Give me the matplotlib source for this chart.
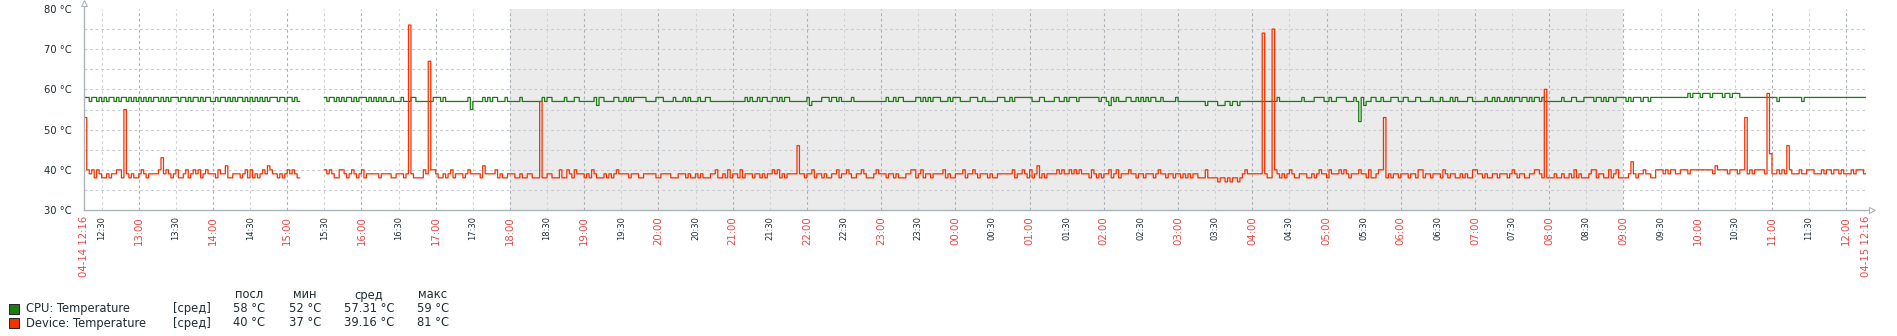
import numpy as np
import matplotlib
matplotlib.use("Agg")
import matplotlib.pyplot as plt

W, H = 1897, 336

# ---------------- data ----------------
# time in minutes since 04-14 12:16, one sample per 2 minutes (720 samples)
# CPU: each char = value - 50 ; '_' = no data
cpu_chunks = [
    "8878878",          # 12:16
    "787887878878787",  # 12:30
    "878787887878788",  # 13:00
    "878878788787887",  # 13:30
    "787887878788787",  # 14:00
    "878787878887887",  # 14:30
    "88787__________",  # 15:00
    "878878787887878",  # 15:30
    "887878787877877",  # 16:00
    "787778877777778",  # 16:30
    "887877777777785",  # 17:00
    "777787878877787",  # 17:30
    "777787777777787",  # 18:00
    "887777787778877",  # 18:30
    "777786887777887",  # 19:00
    "787878888877778",  # 19:30
    "887777877787877",  # 20:00
    "787788777777777",  # 20:30
    "777778787787887",  # 21:00
    "788787887777777",  # 21:30
    "867777888788787",  # 22:00
    "777877777777777",  # 22:30
    "778778788777778",  # 23:00
    "878787888777878",  # 23:30
    "887777888778777",  # 00:00
    "778887787888888",  # 00:30
    "877788777788778",  # 01:00
    "788878888888878",  # 01:30
    "876878777887787",  # 02:00
    "878788778777778",  # 02:30
    "777777777776777",  # 03:00
    "766677677677777",  # 03:30
    "777777777787777",  # 04:00
    "777778777788887",  # 04:30
    "787788887778728",  # 05:00
    "677887787778887",  # 05:30
    "788777887777877",  # 06:00
    "787778787777887",  # 06:30
    "777787787877878",  # 07:00
    "788788787887877",  # 07:30
    "777778777887778",  # 08:00
    "888788787887888",  # 08:30
    "878788878878888",  # 09:00
    "888888888889899",  # 09:30
    "989998999989989",  # 10:00
    "998888888888888",  # 10:30
    "887888888888788",  # 11:00
    "888888888888888",  # 11:30
    "88888888",         # 12:00
]
# Device: digit = value - 30, 'A' = 40, 'B' = 41, 'C' = 42 ; '_' = no data
dev_chunks = [
    "9A9A8A9",          # 12:16
    "889899AA8998988",  # 12:30
    "9A989999A99A989",  # 13:00
    "A889A89A9A89A99",  # 13:30
    "98A99B8899989A8",  # 14:00
    "A8989A9BA998989",  # 14:30
    "A9A98__________",  # 15:00
    "A9A988AA989A989",  # 15:30
    "A89999989999889",  # 16:00
    "9989998888A99AA",  # 16:30
    "988989A899989A9",  # 17:00
    "9998B9999A89889",  # 17:30
    "998898899888988",  # 18:00
    "99888A88A98A999",  # 18:30
    "898A988898989A9",  # 19:00
    "999899988999998",  # 19:30
    "899998889998988",  # 20:00
    "98988899A8898A8",  # 20:30
    "998A89998998989",  # 21:00
    "9A9A89899999998",  # 21:30
    "99A899898899A89",  # 22:00
    "9A98899A98889A9",  # 22:30
    "998998988899AA8",  # 23:00
    "9A89989999A8988",  # 23:30
    "999A899A9899989",  # 00:00
    "88999999A899A98",  # 00:30
    "A89B8989999A9A9",  # 01:00
    "9A9A9A9998A9898",  # 01:30
    "99A89A8999A9989",  # 02:00
    "9899989A9989989",  # 02:30
    "98989899888A888",  # 03:00
    "878878788789A99",  # 03:30
    "999999889A98989",  # 04:00
    "A98899988989A99",  # 04:30
    "8A999A9A98999A9",  # 05:00
    "98A889AA9898998",  # 05:30
    "9998998AA899899",  # 06:00
    "98A98998898988A",  # 06:30
    "A99898899899989",  # 07:00
    "A98998899AA9898",  # 07:30
    "8898898898A8988",  # 08:00
    "89AA89988A89A88",  # 08:30
    "889C9899A9988AA",  # 09:00
    "A9A9AA99AAA9AAA",  # 09:30
    "AAAAAA9BAAAA9AA",  # 10:00
    "A9AAA9A9AAAA9AA",  # 10:30
    "99A9A99A999A99A",  # 11:00
    "AA999A9AA9AA9A9",  # 11:30
    "99A9AAA9",         # 12:00
]
# Device spikes: (minute since 12:16, value)
dev_spike_t = [0, 32, 62, 262, 279, 369, 576, 953, 961, 1051, 1181, 1342, 1360, 1362, 1377]
dev_spike_v = [53, 55, 43, 76, 67, 57, 46, 74, 75, 53, 60, 53, 59, 44, 46]

tick_labels = ["12:30", "13:00", "13:30", "14:00", "14:30", "15:00", "15:30", "16:00",
               "16:30", "17:00", "17:30", "18:00", "18:30", "19:00", "19:30", "20:00",
               "20:30", "21:00", "21:30", "22:00", "22:30", "23:00", "23:30", "00:00",
               "00:30", "01:00", "01:30", "02:00", "02:30", "03:00", "03:30", "04:00",
               "04:30", "05:00", "05:30", "06:00", "06:30", "07:00", "07:30", "08:00",
               "08:30", "09:00", "09:30", "10:00", "10:30", "11:00", "11:30", "12:00"]
start_label = "04-14 12:16"
end_label = "04-15 12:16"
night_start, night_end = 344, 1244   # 18:00 .. 09:00 in minutes since 12:16

legend_names = ["CPU: Temperature", "Device: Temperature"]
legend_func = ["[сред]", "[сред]"]
legend_heads = ["посл", "мин", "сред", "макс"]
legend_vals = [["58 °C", "52 °C", "57.31 °C", "59 °C"],
               ["40 °C", "37 °C", "39.16 °C", "81 °C"]]
colors = ["#1A7C11", "#F63100"]

# ---------------- build series ----------------
def fix(ch, n):
    return (ch + ch[-1] * n)[:n]

def decode(chunks, base):
    s = fix(chunks[0], 7) + "".join(fix(c, 15) for c in chunks[1:-1]) + fix(chunks[-1], 8)
    out = []
    for ch in s:
        if ch == "_":
            out.append(np.nan)
        elif ch.isdigit():
            out.append(base + int(ch))
        else:
            out.append(40 + ord(ch) - ord("A"))
    return np.array(out, dtype=float)

cpu = decode(cpu_chunks, 50)
dev = decode(dev_chunks, 30)
for t, v in zip(dev_spike_t, dev_spike_v):
    dev[min(t // 2, len(dev) - 1)] = v

t_edges = np.arange(len(cpu) + 1) * 2.0

# ---------------- figure ----------------
fig = plt.figure(figsize=(W / 100, H / 100), dpi=100)
L, R, T, B = 84.3, 1866.0, 9.0, 210.0
ax = fig.add_axes([L / W, 1 - B / H, (R - L) / W, (B - T) / H])
ax.set_xlim(0, 1440)
ax.set_ylim(30, 80)
ax.set_facecolor("white")
for s in ax.spines.values():
    s.set_visible(False)

ax.axvspan(night_start, night_end, color="#ebebeb", zorder=0, lw=0)

# horizontal grid
for yv in [35, 40, 45, 50, 55, 60, 65, 70, 75]:
    ax.axhline(yv, color="#c8ccd0", lw=0.8, ls=(0, (2.5, 2.5)), zorder=1)
# vertical grid
tick_pos = [14 + 30 * i for i in range(len(tick_labels))]
for p, lab in zip(tick_pos, tick_labels):
    major = lab.endswith(":00")
    ax.axvline(p, color="#a9b1b8" if major else "#cfd4d8", lw=0.8, ls=(0, (2.5, 2.5)), zorder=1)
ax.axvline(1440, color="#cfd4d8", lw=0.8, ls=(0, (2.5, 2.5)), zorder=1)

# series
ax.step(t_edges, np.append(cpu, cpu[-1]), where="post", color=colors[0], lw=0.9, zorder=3)
ax.step(t_edges, np.append(dev, dev[-1]), where="post", color=colors[1], lw=0.9, zorder=3)

# axes lines with arrows
axis_col = "#aab4bb"
fig.add_artist(plt.Line2D([L / W, L / W], [1 - B / H, 1 - 3 / H], color=axis_col, lw=1.0))
fig.add_artist(plt.Line2D([L / W, 1870 / W], [1 - B / H, 1 - B / H], color=axis_col, lw=1.0))
fig.add_artist(plt.Line2D([L / W], [1 - 3 / H], marker="^", markersize=5, mfc="white",
                          mec=axis_col, mew=0.8, ls="none"))
fig.add_artist(plt.Line2D([1872 / W], [1 - B / H], marker=">", markersize=5, mfc="white",
                          mec=axis_col, mew=0.8, ls="none"))

# y labels
ax.set_yticks([30, 40, 50, 60, 70, 80])
ax.set_yticklabels([f"{v} °C" for v in [30, 40, 50, 60, 70, 80]], fontsize=7.2, color="#1f2c33")
ax.tick_params(axis="y", length=0, pad=9)
ax.set_xticks([])

# x labels
red = "#e64646"
for p, lab in zip(tick_pos, tick_labels):
    major = lab.endswith(":00")
    ax.text(p, -0.03, lab, transform=ax.get_xaxis_transform(), rotation=90,
            ha="center", va="top", fontsize=7.3 if major else 6.0,
            color=red if major else "#1f2c33")
ax.text(0, -0.03, start_label, transform=ax.get_xaxis_transform(), rotation=90,
        ha="center", va="top", fontsize=7.3, color=red)
ax.text(1440, -0.03, end_label, transform=ax.get_xaxis_transform(), rotation=90,
        ha="center", va="top", fontsize=7.3, color=red)

# legend
def fy(y):
    return 1 - y / H

txtc = "#1f2c33"
head_x = [249, 305, 369, 433]
for hx, h in zip(head_x, legend_heads):
    fig.text(hx / W, fy(295), h, ha="center", va="center", fontsize=8.3, color=txtc)
row_y = [308.5, 323]
for i in range(2):
    y0 = row_y[i] - 5
    fig.add_artist(plt.Rectangle((9.3 / W, fy(y0 + 10)), 10 / W, 10 / H, facecolor=colors[i],
                                 edgecolor="#222222", lw=0.7))
    fig.text(25.5 / W, fy(row_y[i]), legend_names[i], ha="left", va="center", fontsize=8.3, color=txtc)
    fig.text(173 / W, fy(row_y[i]), legend_func[i], ha="left", va="center", fontsize=8.3, color=txtc)
    for hx, v in zip(head_x, legend_vals[i]):
        fig.text(hx / W, fy(row_y[i]), v, ha="center", va="center", fontsize=8.3, color=txtc)

fig.savefig("out.png", dpi=100, facecolor="white")
